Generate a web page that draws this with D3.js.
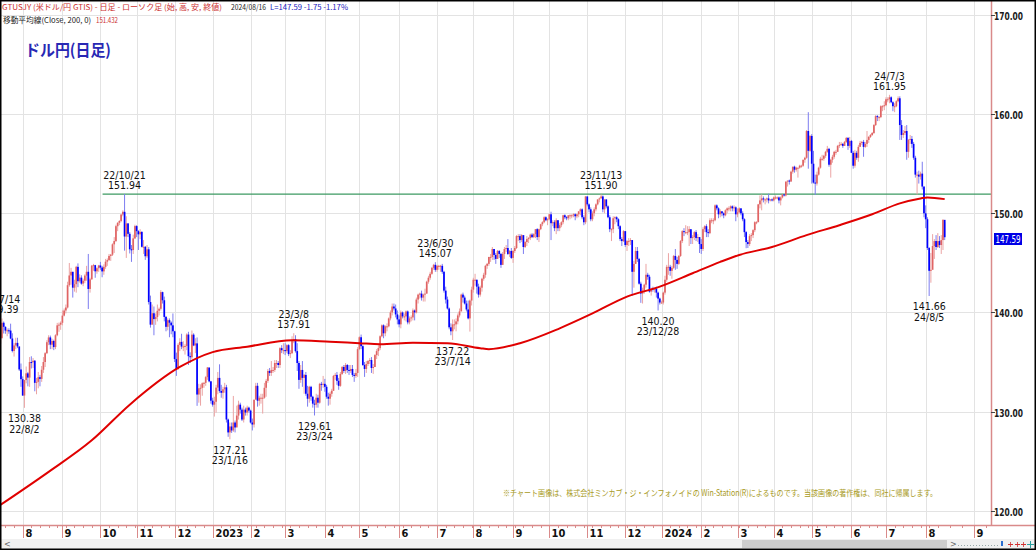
<!DOCTYPE html>
<html><head><meta charset="utf-8">
<script src="https://cdn.jsdelivr.net/npm/d3@7"></script>
<style>
body{margin:0;background:#fff}
svg{display:block}
.num{font-family:"Liberation Sans Narrow","DejaVu Sans Condensed","Arial Narrow",sans-serif}
.jp{font-family:"Noto Sans CJK JP","Noto Sans",sans-serif}
</style>
</head><body>
<svg id="c" width="1036" height="550"></svg>
<script>
// ---------------- DATA ----------------
const startDate = "2022-07-13";
const firstOpen = 136.85;
const closes = [
// 2022-07
137.43,138.96,138.55,138.17,138.20,138.17,137.37,136.11,136.67,136.93,136.57,134.25,133.27,
// 2022-08
131.62,133.18,133.86,133.43,135.00,134.98,135.13,132.90,133.00,133.47,133.30,134.22,135.00,135.89,137.00,137.48,136.75,137.12,136.51,137.70,138.70,138.77,138.96,
// 2022-09
139.68,140.20,140.50,142.75,143.73,144.10,142.50,142.85,144.60,143.15,143.51,142.91,143.20,143.72,144.10,142.37,143.34,144.72,144.77,144.15,144.46,144.74,
// 2022-10
144.53,144.14,144.60,145.12,145.28,145.70,145.83,146.87,147.20,148.70,149.04,149.23,149.88,150.15,147.66,148.98,147.93,146.37,146.30,147.47,148.71,
// 2022-11
148.20,147.88,148.12,146.62,146.62,145.67,146.37,141.05,138.77,139.92,139.33,139.54,140.17,140.37,142.05,141.23,139.55,138.55,139.22,138.97,138.70,138.10,
// 2022-12
135.30,134.30,136.73,137.03,136.56,136.57,136.62,137.77,135.59,135.48,137.76,136.67,136.88,131.72,132.35,132.40,132.86,132.90,133.48,134.45,133.05,131.10,
// 2023-01
130.70,130.99,132.42,133.40,132.08,131.90,132.25,132.45,129.20,127.90,128.50,128.10,128.90,128.40,129.60,130.70,130.20,129.20,130.20,129.90,130.40,130.10,
// 2023-02
128.90,128.70,131.20,132.60,131.10,131.40,131.40,131.40,132.40,133.10,134.10,133.90,134.20,134.20,134.90,134.90,134.70,136.40,136.20,136.20,
// 2023-03
136.10,136.70,135.80,135.90,137.20,137.30,136.10,134.90,133.20,134.20,133.40,133.70,131.80,131.30,132.50,131.50,130.80,130.70,131.40,130.90,132.80,132.70,132.80,
// 2023-04
132.50,131.50,131.30,131.80,132.10,133.60,133.70,133.10,132.60,133.80,134.50,134.10,134.70,134.20,134.10,134.30,133.70,133.60,133.90,136.30,
// 2023-05
137.50,136.60,134.70,134.30,134.80,135.10,135.20,134.40,134.50,135.70,136.10,136.40,137.60,138.70,137.90,138.60,138.60,139.40,140.00,140.60,140.40,139.80,139.30,
// 2023-06
138.80,140.00,139.60,139.60,140.10,139.00,139.40,139.50,140.20,140.00,141.30,141.80,141.90,141.50,141.80,141.90,143.10,143.50,143.90,144.50,144.80,144.30,
// 2023-07
144.70,144.70,144.70,144.10,142.20,141.30,140.40,138.50,138.10,138.80,138.80,139.10,139.70,140.10,141.80,141.50,140.90,140.30,139.40,141.20,142.30,
// 2023-08
143.30,143.30,142.60,141.80,142.50,143.40,143.80,144.70,144.90,145.60,145.60,146.40,145.80,145.40,146.20,145.90,144.80,145.90,146.40,146.50,145.90,146.20,145.50,
// 2023-09
146.20,146.50,147.70,147.70,147.30,147.80,146.60,147.10,147.40,147.50,147.85,147.60,147.90,148.40,147.60,148.40,148.90,149.10,149.60,149.30,149.40,
// 2023-10
149.90,149.00,149.10,148.50,149.30,148.50,148.80,149.10,149.80,149.60,149.50,149.80,149.80,149.80,149.90,149.70,149.90,150.20,150.40,149.60,149.10,151.70,
// 2023-11
150.90,150.40,149.40,150.00,150.40,150.90,151.40,151.50,151.70,150.40,151.40,150.70,149.60,148.40,148.40,149.50,149.60,149.40,148.70,147.40,147.20,148.20,
// 2023-12
146.80,147.20,147.20,147.30,144.10,144.90,146.20,145.40,142.90,141.90,142.20,142.80,143.80,143.60,142.10,142.40,142.30,142.40,142.00,141.40,141.00,
// 2024-01
141.00,142.00,143.30,144.60,144.60,144.20,144.50,145.70,145.30,144.90,145.70,147.20,148.20,148.10,148.10,148.10,148.40,147.50,147.60,148.10,147.50,147.60,146.90,
// 2024-02
146.40,148.40,148.70,148.10,148.00,149.30,149.30,149.30,150.80,150.50,149.90,150.20,150.00,149.80,150.30,150.50,150.50,150.70,150.50,150.60,149.90,
// 2024-03
150.10,150.50,150.00,149.40,148.10,147.10,146.90,147.70,147.80,148.30,149.10,149.10,150.90,151.30,151.50,151.40,151.40,151.50,151.30,151.40,151.30,
// 2024-04
151.60,151.60,151.60,151.30,151.60,151.90,151.80,153.20,153.30,153.20,154.20,154.70,154.40,154.60,154.60,154.80,154.80,155.40,155.60,158.30,156.30,157.80,
// 2024-05
155.00,153.10,153.00,153.90,154.60,155.50,155.50,155.80,156.20,156.50,154.90,155.40,155.70,156.20,156.20,156.80,156.90,157.00,156.80,157.20,157.60,156.80,157.30,
// 2024-06
156.10,154.80,156.10,155.60,156.70,157.10,157.20,156.70,157.00,157.40,157.70,157.90,158.10,158.90,159.80,159.70,159.70,160.80,160.80,160.90,
// 2024-07
161.50,161.50,161.70,161.20,160.80,160.80,161.30,161.60,158.90,157.90,158.10,158.30,156.20,157.40,157.50,157.00,155.60,153.90,153.90,153.70,154.00,152.70,150.00,
// 2024-08
149.40,146.50,144.20,144.30,146.70,147.20,146.60,147.20,146.80,147.30,149.34,147.59
];
const highs = [
137.87,139.39,139.09,138.59,138.39,138.40,138.87,137.90,136.90,137.45,137.45,136.55,134.85,
133.55,133.20,134.55,134.00,135.50,135.58,135.40,135.20,133.40,134.00,133.70,134.60,135.50,136.00,137.20,137.70,137.67,137.35,137.25,137.80,138.95,138.98,139.10,
140.20,140.40,140.80,143.10,144.99,144.50,144.10,143.30,144.70,144.95,143.85,143.75,143.40,143.85,144.70,145.90,143.50,144.79,144.90,144.80,144.55,144.80,
145.10,144.70,144.85,145.40,145.45,145.90,145.90,146.97,147.60,148.85,149.10,149.30,149.90,150.30,151.94,149.70,149.00,148.10,146.80,147.85,148.85,
148.80,148.30,148.40,148.20,147.30,146.70,146.80,146.59,141.70,140.80,140.60,139.90,140.80,140.50,142.25,142.10,141.60,139.65,139.40,139.40,139.10,139.90,
138.15,135.95,136.90,137.40,137.85,137.10,136.80,137.90,138.05,135.98,138.18,137.90,137.40,137.48,132.80,132.75,132.95,133.00,133.60,134.50,134.40,133.10,
131.40,131.50,132.70,134.00,134.77,132.70,132.50,132.90,132.70,129.30,128.90,128.90,131.58,129.10,130.60,131.10,130.90,130.40,130.60,130.40,130.60,130.50,
130.20,129.30,131.20,132.90,132.90,131.60,131.80,131.80,132.90,133.30,134.30,134.40,135.10,134.50,135.20,135.20,135.10,136.50,136.70,136.90,
136.90,136.80,136.80,136.20,137.60,137.91,137.70,136.90,135.10,134.70,135.10,133.80,134.00,132.60,132.60,132.60,131.60,131.20,131.80,131.70,132.90,133.00,133.60,
133.30,132.70,131.90,132.00,132.30,133.70,133.90,134.00,133.40,134.00,134.60,134.70,134.90,134.80,134.70,134.70,134.70,133.90,134.30,136.50,
137.60,137.77,136.70,135.00,135.10,135.20,135.40,135.50,134.80,135.80,136.30,136.70,137.70,138.80,138.80,138.70,138.90,139.50,140.20,140.90,140.90,140.80,140.20,
139.70,140.20,140.10,139.90,140.20,140.20,139.60,139.70,140.40,140.30,141.50,141.90,142.00,142.20,141.90,142.40,143.20,143.70,144.10,144.60,144.90,145.07,
144.80,144.80,144.80,144.90,144.20,142.60,141.60,140.50,138.90,139.30,139.30,139.40,139.90,140.40,141.90,142.00,141.70,141.20,141.20,141.30,142.60,
143.50,143.90,143.30,142.90,142.70,143.50,144.00,144.80,145.00,145.60,145.90,146.60,146.40,146.00,146.30,146.30,146.00,146.10,146.60,146.80,147.40,146.30,146.50,
146.30,146.70,147.80,147.90,147.90,147.90,147.70,147.20,147.70,147.60,147.95,148.00,148.00,148.40,148.50,148.45,148.95,149.20,149.70,149.70,149.50,
149.95,150.16,149.30,149.30,149.50,149.30,149.00,149.20,149.85,149.90,149.70,149.80,149.90,149.90,150.00,150.00,149.95,150.20,150.50,150.50,149.80,151.72,
151.70,151.00,150.60,150.20,150.60,151.00,151.40,151.60,151.90,151.80,151.40,151.40,150.80,149.80,148.50,149.70,149.70,149.70,149.50,148.80,147.60,148.30,
148.20,147.30,147.50,147.50,147.30,145.20,146.60,146.60,145.50,143.10,142.50,142.90,144.90,144.00,143.80,142.50,142.60,142.50,142.60,142.10,141.50,
141.20,142.10,143.70,144.80,145.98,144.80,144.70,145.80,146.40,145.60,145.80,147.30,148.30,148.50,148.80,148.70,148.70,148.30,147.80,148.20,148.30,147.90,147.60,
147.40,148.60,148.80,148.90,148.40,149.50,149.50,149.50,150.90,150.90,150.60,150.40,150.20,150.10,150.40,150.60,150.70,150.80,150.80,150.80,150.70,
150.50,150.60,150.50,150.20,149.50,148.20,147.30,147.90,148.00,148.40,149.20,149.20,150.95,151.80,151.90,151.70,151.50,151.60,151.97,151.40,151.50,
151.70,151.80,151.70,151.70,151.70,151.90,151.90,153.20,153.30,153.40,154.30,154.70,154.80,154.70,154.60,154.90,154.90,155.40,155.70,158.40,160.20,157.90,
157.99,156.30,153.90,154.20,154.70,155.70,155.90,155.90,156.30,156.80,156.60,155.50,155.90,156.30,156.40,156.90,157.20,157.20,157.10,157.30,157.70,157.70,157.70,
157.40,156.30,156.40,156.30,156.90,157.30,157.30,157.40,157.20,158.30,157.80,158.00,158.20,159.00,159.90,159.90,159.80,160.90,160.90,161.30,
161.70,161.70,161.95,161.80,161.30,161.10,161.40,161.80,161.80,159.40,158.40,158.80,158.90,157.50,157.90,157.80,157.20,155.80,154.20,154.30,154.20,155.20,152.70,
150.80,149.60,146.60,146.00,147.90,147.40,147.80,148.00,147.70,147.80,149.40,149.10
];
const lows = [
136.50,137.30,137.88,137.85,137.60,137.85,137.30,135.97,135.55,136.30,136.40,134.10,132.50,
131.60,130.38,132.85,132.55,132.50,134.35,134.40,132.05,131.75,132.35,132.55,133.00,133.90,134.50,135.80,136.70,136.30,136.30,136.20,136.30,137.60,138.05,138.25,
138.70,139.60,139.90,140.40,142.60,142.80,141.50,142.10,142.00,142.55,143.00,142.80,142.65,142.95,143.20,140.35,142.00,143.30,144.20,143.50,143.90,144.10,
144.30,143.55,143.80,144.40,144.70,145.20,145.20,145.70,146.00,147.10,148.20,148.80,149.10,149.70,146.23,145.50,147.60,145.95,145.10,145.90,147.40,
147.60,146.30,147.40,146.55,145.90,145.30,145.50,140.80,138.47,138.80,137.70,138.75,139.10,139.70,140.20,140.90,139.10,138.10,138.20,137.50,137.80,137.50,
135.00,133.60,134.20,136.10,136.30,136.10,135.75,136.20,134.70,134.90,135.30,136.60,135.90,130.58,130.90,130.60,131.60,132.40,132.60,133.20,132.95,130.80,
130.50,129.50,129.90,131.75,131.90,131.40,131.30,131.90,128.90,127.46,127.21,127.85,127.95,127.90,128.50,129.20,129.80,129.05,128.90,129.60,129.60,129.90,
128.80,128.10,128.40,131.50,130.50,130.60,130.80,129.80,131.30,131.50,132.90,133.60,133.60,133.90,134.00,134.40,134.40,134.40,135.90,135.80,
135.70,135.90,135.60,135.40,135.80,136.90,135.95,134.10,132.30,132.90,132.50,131.80,131.60,130.50,130.90,131.10,130.40,129.61,130.40,130.40,130.80,132.10,132.40,
132.00,131.30,130.60,130.70,131.50,132.10,133.20,132.70,132.20,132.50,133.70,133.90,133.80,133.90,133.70,133.90,133.50,133.00,133.40,133.50,
136.20,136.30,134.60,133.50,133.90,134.60,134.80,133.90,133.80,134.50,135.30,135.60,136.20,137.50,137.40,137.60,138.10,138.50,139.20,139.70,140.20,139.50,138.80,
138.50,138.40,139.40,139.20,139.10,138.80,138.80,139.10,139.20,139.20,139.90,140.90,141.40,141.20,141.10,141.10,141.90,142.90,143.30,143.80,144.30,144.10,
144.10,144.30,144.10,143.90,142.00,140.90,140.30,138.30,137.70,137.22,138.30,138.10,138.80,139.50,140.20,141.00,140.80,140.10,139.30,138.07,140.70,
142.00,142.70,141.90,141.50,141.60,142.10,143.20,143.50,144.40,144.70,145.10,145.30,145.30,144.90,145.40,145.50,144.50,144.80,145.40,146.10,145.80,145.60,145.40,
145.00,146.00,146.40,147.20,147.00,147.10,145.90,146.50,146.70,147.00,147.30,147.50,147.50,147.50,147.30,147.10,148.30,148.70,149.00,149.20,148.80,
149.30,147.30,148.70,148.20,147.90,148.20,148.20,148.60,148.90,149.40,149.30,149.30,149.40,149.50,149.60,149.30,149.50,149.60,149.80,149.40,148.80,148.90,
150.70,150.10,149.20,149.20,149.70,150.20,150.80,151.10,151.50,150.10,150.00,150.50,149.50,148.10,147.20,148.00,148.90,149.10,148.40,147.20,146.70,147.10,
146.60,146.20,146.70,146.80,141.70,142.50,144.90,145.10,142.80,140.97,140.90,141.90,142.50,143.30,142.00,141.70,142.10,142.00,141.50,140.20,140.80,
140.90,140.80,141.80,143.10,143.80,143.70,143.40,144.40,144.30,144.40,144.80,145.60,147.00,147.70,147.90,147.80,146.70,146.90,146.90,147.30,147.20,147.10,146.00,
145.90,146.20,148.10,147.60,147.60,147.90,149.00,148.90,149.20,150.30,149.50,149.60,149.70,149.50,149.70,150.00,150.20,150.20,150.20,150.20,149.20,
149.60,150.00,149.80,149.20,147.60,146.48,146.50,146.70,147.20,147.50,148.10,148.90,149.20,150.50,150.30,151.10,150.90,151.10,151.00,151.20,151.20,
151.20,151.40,151.40,151.00,150.80,151.50,151.70,151.70,152.70,152.90,153.20,154.00,154.10,154.20,153.60,154.50,154.60,154.70,155.10,155.50,154.50,156.20,
153.00,153.00,151.86,152.80,153.80,154.50,155.30,155.30,155.60,156.10,154.70,153.60,155.10,155.50,155.90,156.20,156.60,156.80,156.60,156.80,157.10,156.40,156.60,
156.10,154.50,154.60,155.40,155.20,156.70,156.90,155.70,156.60,156.70,157.10,157.60,157.80,158.00,158.80,159.30,159.30,159.60,160.30,160.40,
160.80,161.20,161.10,161.10,160.30,160.20,160.70,161.20,157.40,157.40,157.60,157.90,155.40,155.60,157.00,156.60,155.40,153.60,151.90,153.00,153.40,152.40,149.60,
148.50,146.30,141.66,143.00,144.80,145.40,146.30,146.50,146.50,145.90,146.30,147.30
];
// 200-day moving average
const maDates = ["2022-07-13","2022-08-19","2022-09-26","2022-10-26","2022-12-06","2023-01-02","2023-01-30","2023-03-07","2023-04-06","2023-05-01","2023-05-17","2023-06-13","2023-07-11","2023-08-07","2023-08-14","2023-09-07","2023-10-10","2023-11-06","2023-12-04","2023-12-29","2024-01-25","2024-02-16","2024-03-04","2024-03-29","2024-04-26","2024-05-23","2024-06-19","2024-07-11","2024-07-29","2024-08-02","2024-08-16"];
const maValues = [120.58,123.8,127.1,130.7,134.5,136.0,136.55,137.2,137.05,136.9,136.8,136.95,136.9,136.4,136.3,136.9,138.4,139.9,141.6,142.6,143.95,145.1,145.8,146.6,147.8,148.8,149.9,151.0,151.5,151.6,151.43];
// axes
const monthTicks = ["2022-08-01","2022-09-01","2022-10-03","2022-11-01","2022-12-01","2023-01-02","2023-02-01","2023-03-01","2023-04-03","2023-05-01","2023-06-01","2023-07-03","2023-08-01","2023-09-01","2023-10-02","2023-11-01","2023-12-01","2024-01-01","2024-02-01","2024-03-01","2024-04-01","2024-05-01","2024-06-03","2024-07-01","2024-08-01","2024-09-02"];
const monthLabels = ["8","9","10","11","12","2023","2","3","4","5","6","7","8","9","10","11","12","2024","2","3","4","5","6","7","8","9"];
const yTicks = [120,130,140,150,160,170];
// annotations
const annDates = ["2022-07-14","2022-08-02","2022-10-21","2023-01-16","2023-03-08","2023-03-24","2023-06-30","2023-07-14","2023-11-13","2023-12-28","2024-07-03","2024-08-05"];
const annLabels = ["22/7/14","22/8/2","22/10/21","23/1/16","23/3/8","23/3/24","23/6/30","23/7/14","23/11/13","23/12/28","24/7/3","24/8/5"];
const annValues = [139.39,130.38,151.94,127.21,137.91,129.61,145.07,137.22,151.90,140.20,161.95,141.66];
const annAbove = [true,false,true,false,true,false,true,false,true,false,true,false];
const lineLevel = 151.94, lineFrom = "2022-10-21";
const lastPrice = "147.59";

// ---------------- CHART ----------------
const svg = d3.select("#c");
const W = 1036, H = 550, plotR = 991, plotB = 525;
const parse = d3.utcParse("%Y-%m-%d");
const days = [];
for (let d = parse(startDate); days.length < closes.length; d = d3.utcDay.offset(d, 1)) {
  const wd = d.getUTCDay(); if (wd !== 0 && wd !== 6) days.push(d);
}
const lastIdx = days.length - 1;
const idxMap = new Map(days.map((d, i) => [+d, i]));
function idxOf(s) {
  const d = typeof s === "string" ? parse(s) : s;
  if (idxMap.has(+d)) return idxMap.get(+d);
  if (d > days[lastIdx]) return lastIdx + d3.utcDay.count(days[lastIdx], d);
  let i = 0; while (i < lastIdx && days[i + 1] <= d) i++; return i;
}
const x = d3.scaleLinear().domain([0, lastIdx]).range([0.25, 0.25 + lastIdx * 1.7266]);
const y = d3.scaleLinear().domain([120, 170]).range([510.75, 15]);

svg.append("rect").attr("width", W).attr("height", H).attr("fill", "#fff");
svg.append("defs").append("clipPath").attr("id", "pc")
  .append("rect").attr("x", 0).attr("y", 0).attr("width", plotR).attr("height", plotB);

// gridlines
const grid = svg.append("g");
grid.selectAll("line.h").data(yTicks).join("line")
  .attr("x1", 0).attr("x2", plotR).attr("y1", d => Math.round(y(d)) + 0.5).attr("y2", d => Math.round(y(d)) + 0.5)
  .attr("stroke", "#e3e3e3");
grid.selectAll("line.v").data(monthTicks).join("line")
  .attr("x1", d => Math.round(x(idxOf(d))) + 0.5).attr("x2", d => Math.round(x(idxOf(d))) + 0.5)
  .attr("y1", 0).attr("y2", plotB).attr("stroke", "#e3e3e3");

const plot = svg.append("g").attr("clip-path", "url(#pc)");
// resistance line
plot.append("line").attr("x1", x(idxOf(lineFrom)) - 22).attr("x2", plotR)
  .attr("y1", y(lineLevel)).attr("y2", y(lineLevel)).attr("stroke", "#3d9a62").attr("stroke-width", 1.2);

// candles
const bars = closes.map((c, i) => ({ i, o: i ? closes[i - 1] : firstOpen, c, h: highs[i], l: lows[i] }));
const cg = plot.append("g");
cg.selectAll("rect.w").data(bars).join("rect")
  .attr("x", d => x(d.i) - 0.5).attr("width", 1)
  .attr("y", d => y(d.h)).attr("height", d => Math.max(0.8, y(d.l) - y(d.h)))
  .attr("fill", d => d.c >= d.o ? "#eba4a4" : "#7d7df0");
cg.selectAll("rect.b").data(bars).join("rect")
  .attr("x", d => x(d.i) - 0.85).attr("width", 1.7)
  .attr("y", d => y(Math.max(d.o, d.c))).attr("height", d => Math.max(1, Math.abs(y(d.o) - y(d.c))))
  .attr("fill", d => d.c >= d.o ? "#e06464" : "#0000ff");

// moving average
const ma = maDates.map((d, k) => [x(idxOf(d)), y(maValues[k])]);
plot.append("path").attr("d", d3.line().curve(d3.curveMonotoneX)(ma))
  .attr("fill", "none").attr("stroke", "#e00000").attr("stroke-width", 2);

// annotations
const ann = plot.append("g").attr("class", "num").attr("font-size", 10.5).attr("fill", "#111").attr("text-anchor", "middle");
annDates.forEach((d, k) => {
  const cx = x(idxOf(d)), cy = y(annValues[k]);
  const v = annValues[k].toFixed(2);
  if (annAbove[k]) {
    ann.append("text").attr("x", cx).attr("y", cy - 15).text(annLabels[k]);
    ann.append("text").attr("x", cx).attr("y", cy - 5).text(v);
  } else {
    ann.append("text").attr("x", cx).attr("y", cy + 14.5).text(v);
    ann.append("text").attr("x", cx).attr("y", cy + 25).text(annLabels[k]);
  }
});

// axes lines
const axCol = "#d98a8a";
svg.append("line").attr("x1", plotR + 0.5).attr("x2", plotR + 0.5).attr("y1", 0).attr("y2", plotB).attr("stroke", axCol).attr("stroke-width", 1.5);
svg.append("line").attr("x1", 0).attr("x2", W).attr("y1", plotB + 0.5).attr("y2", plotB + 0.5).attr("stroke", axCol).attr("stroke-width", 1.5);

// y axis
const ya = svg.append("g").attr("class", "num").attr("font-size", 11).attr("font-weight", "bold").attr("fill", "#1a1a1a");
yTicks.forEach(v => {
  const yy = Math.round(y(v)) + 0.5;
  svg.append("line").attr("x1", plotR).attr("x2", plotR + 4).attr("y1", yy).attr("y2", yy).attr("stroke", "#444");
  ya.append("text").attr("x", 994).attr("y", yy + 4).attr("textLength", 29).attr("lengthAdjust", "spacingAndGlyphs").text(d3.format(".2f")(v));
});

// x axis: weekly minor ticks + month ticks
const mondays = d3.utcMonday.range(parse("2022-07-18"), parse("2024-09-10"));
svg.append("g").selectAll("line").data(mondays).join("line")
  .attr("x1", d => Math.round(x(idxOf(d))) + 0.5).attr("x2", d => Math.round(x(idxOf(d))) + 0.5)
  .attr("y1", plotB).attr("y2", plotB + 3).attr("stroke", axCol);
const xa = svg.append("g").attr("class", "num").attr("font-size", 11).attr("font-weight", "bold").attr("fill", "#111");
monthTicks.forEach((d, k) => {
  const xx = Math.round(x(idxOf(d))) + 0.5;
  svg.append("line").attr("x1", xx).attr("x2", xx).attr("y1", plotB).attr("y2", 538).attr("stroke", axCol);
  xa.append("text").attr("x", xx + 2).attr("y", 537).text(monthLabels[k]);
});

// price tag
svg.append("rect").attr("x", 994).attr("y", 233).attr("width", 28).attr("height", 12).attr("fill", "#0000e6");
svg.append("text").attr("class", "num").attr("x", 995.5).attr("y", 242.5).attr("font-size", 10)
  .attr("textLength", 25).attr("lengthAdjust", "spacingAndGlyphs").attr("fill", "#fff").text(lastPrice);

// header
const hd = svg.append("g").attr("class", "jp").attr("font-size", 7.6);
hd.append("text").attr("x", 2).attr("y", 10).attr("fill", "#cc3030")
  .attr("textLength", 220).attr("lengthAdjust", "spacingAndGlyphs")
  .text("GTUSJY (米ドル/円 GTIS) - 日足 - ローソク足 (始, 高, 安, 終値)");
hd.append("text").attr("x", 231).attr("y", 10).attr("fill", "#222")
  .attr("textLength", 35).attr("lengthAdjust", "spacingAndGlyphs").text("2024/08/16");
hd.append("text").attr("x", 270).attr("y", 10).attr("fill", "#2020c0")
  .attr("textLength", 78).attr("lengthAdjust", "spacingAndGlyphs").text("L=147.59  -1.75  -1.17%");
hd.append("text").attr("x", 3).attr("y", 22.5).attr("fill", "#222")
  .attr("textLength", 88).attr("lengthAdjust", "spacingAndGlyphs").text("移動平均線(Close, 200, 0)");
hd.append("text").attr("x", 96).attr("y", 22.5).attr("fill", "#cc3030")
  .attr("textLength", 22).attr("lengthAdjust", "spacingAndGlyphs").text("151.432");

// title
svg.append("text").attr("class", "jp").attr("x", 25).attr("y", 56).attr("font-size", 16).attr("font-weight", "bold")
  .attr("fill", "#2828b4").attr("textLength", 86).attr("lengthAdjust", "spacingAndGlyphs").text("ドル円(日足)");

// copyright
svg.append("text").attr("class", "jp").attr("x", 503).attr("y", 496).attr("font-size", 8.5)
  .attr("fill", "#a89a1c").attr("textLength", 434).attr("lengthAdjust", "spacingAndGlyphs")
  .text("※チャート画像は、株式会社ミンカブ・ジ・インフォノイドの Win-Station(R)によるものです。当該画像の著作権は、同社に帰属します。");

// scrollbar
svg.append("rect").attr("x", 0).attr("y", 539).attr("width", W).attr("height", 10).attr("fill", "#f0f0f0");
svg.append("rect").attr("x", 742).attr("y", 540).attr("width", 205).attr("height", 8).attr("fill", "#cdcdcd");
svg.append("text").attr("x", 4).attr("y", 547).attr("font-size", 8).attr("fill", "#666").attr("font-family", "DejaVu Sans").text("<");
svg.append("text").attr("x", 950).attr("y", 547).attr("font-size", 8).attr("fill", "#666").attr("font-family", "DejaVu Sans").text(">");
svg.append("line").attr("x1", 958).attr("x2", 1000).attr("y1", 545.5).attr("y2", 545.5).attr("stroke", "#9aa").attr("stroke-dasharray", "1,2");
svg.append("rect").attr("x", 1001).attr("y", 541).attr("width", 2).attr("height", 5).attr("fill", "#2a6fd0");
[[1008, "#d03030"], [1015, "#d03030"], [1021, "#d03030"]].forEach(([px, col]) => {
  svg.append("line").attr("x1", px).attr("x2", px + 5).attr("y1", 544.5).attr("y2", 544.5).attr("stroke", col);
  svg.append("line").attr("x1", px + 2.5).attr("x2", px + 2.5).attr("y1", 542).attr("y2", 547).attr("stroke", col).attr("stroke-width", 0.8);
});
svg.append("line").attr("x1", 1027).attr("x2", 1034).attr("y1", 544.5).attr("y2", 544.5).attr("stroke", "#2aa0a0");
svg.append("line").attr("x1", 1030.5).attr("x2", 1030.5).attr("y1", 541).attr("y2", 548).attr("stroke", "#2aa0a0");

// outer frame
svg.append("rect").attr("x", 0.75).attr("y", 0.75).attr("width", W - 1.5).attr("height", H - 1.5)
  .attr("fill", "none").attr("stroke", "#000").attr("stroke-width", 1.5);
</script>
</body></html>
